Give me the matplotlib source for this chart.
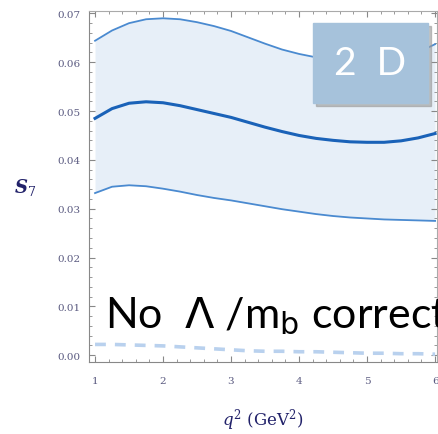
import matplotlib
matplotlib.use("Agg")
from matplotlib import pyplot as plt
from matplotlib.patches import Rectangle
from matplotlib.ticker import MultipleLocator

q2 = [1.0, 1.25, 1.5, 1.75, 2.0, 2.25, 2.5, 2.75, 3.0, 3.25, 3.5,
      3.75, 4.0, 4.25, 4.5, 4.75, 5.0, 5.25, 5.5, 5.75, 6.0]
s7_upper = [0.0644, 0.0665, 0.0680, 0.0688, 0.0690, 0.0688, 0.0682, 0.0674,
            0.0664, 0.0651, 0.0638, 0.0626, 0.0617, 0.0610, 0.0605, 0.0601,
            0.0600, 0.0602, 0.0608, 0.0620, 0.0637]
s7_central = [0.0485, 0.0505, 0.0516, 0.0519, 0.0517, 0.0511, 0.0503, 0.0495,
              0.0487, 0.0477, 0.0467, 0.0458, 0.0450, 0.0444, 0.0440, 0.0437,
              0.0436, 0.0436, 0.0439, 0.0445, 0.0454]
s7_lower = [0.0332, 0.0345, 0.0348, 0.0346, 0.0341, 0.0335, 0.0328, 0.0322,
            0.0317, 0.0311, 0.0305, 0.0299, 0.0294, 0.0289, 0.0285, 0.0282,
            0.0280, 0.0278, 0.0277, 0.0276, 0.0275]
s7_nocorr = [0.0022, 0.0022, 0.0021, 0.0020, 0.0019, 0.0017, 0.0015, 0.0013,
             0.0011, 0.0009, 0.0008, 0.0008, 0.0007, 0.0007, 0.0006, 0.0005,
             0.0004, 0.0004, 0.0003, 0.0003, 0.0002]

fig = plt.figure(figsize=(4.38, 4.35), dpi=100)
ax = fig.add_axes([0.203, 0.1655, 0.795, 0.807])

ax.fill_between(q2, s7_lower, s7_upper, color="#e7eff8", lw=0)
ax.plot(q2, s7_upper, color="#4a8ad0", lw=1.3)
ax.plot(q2, s7_lower, color="#4a8ad0", lw=1.3)
ax.plot(q2, s7_central, color="#1a62b8", lw=2.2)
ax.plot(q2, s7_nocorr, color="#b9d1ee", lw=2.6, ls=(0, (3, 2.5)))

ax.set_xlim(0.91, 6.03)
ax.set_ylim(-0.0014, 0.0705)
ax.xaxis.set_major_locator(MultipleLocator(1))
ax.xaxis.set_minor_locator(MultipleLocator(0.2))
ax.yaxis.set_minor_locator(MultipleLocator(0.002))
ax.set_yticks([0.0, 0.01, 0.02, 0.03, 0.04, 0.05, 0.06, 0.07])
ax.set_yticklabels(["0.00", "0.01", "0.02", "0.03", "0.04", "0.05", "0.06", "0.07"])
ax.tick_params(which="both", direction="in", top=True, right=True,
               color="#888888", labelsize=7.5, labelcolor="#5a5a80",
               labelfontfamily="DejaVu Serif")
ax.tick_params(which="major", length=4, width=0.8, pad=6)
ax.tick_params(axis="x", which="major", pad=10)
ax.tick_params(which="minor", length=2, width=0.6)
for sp in ax.spines.values():
    sp.set_color("#aaaaaa")
    sp.set_linewidth(0.8)
ax.spines["left"].set_color("#888888")
ax.spines["bottom"].set_color("#888888")

fig.text(0.058, 0.568, r"$\mathbfit{S}_7$", fontsize=13, color="#22226a",
         ha="center", va="center", math_fontfamily="dejavuserif")
fig.text(0.60, 0.035, r"$q^2$ (GeV$^2$)", fontsize=12, color="#22226a",
         family="DejaVu Serif", ha="center", va="center",
         math_fontfamily="dejavuserif")

# label box "2 D" with shadow
bx0, by0, bw, bh = 313 / 438, 1 - 104 / 435, 115 / 438, 80 / 435
fig.patches.append(Rectangle((bx0 + 0.006, by0 - 0.008), bw, bh,
                             transform=fig.transFigure, color="#9a9a9a",
                             alpha=0.6, zorder=5))
fig.patches.append(Rectangle((bx0, by0), bw, bh, transform=fig.transFigure,
                             color="#a6c2db", zorder=6))
fig.text(bx0 + bw / 2, by0 + bh / 2, "2  D", fontsize=28, color="white",
         family=["Lato", "DejaVu Sans"], ha="center", va="center", zorder=7)

fig.text(105 / 438, 1 - 316 / 435, r"No  $\Lambda$ /m$_\mathrm{b}$ corrections",
         fontsize=31, color="black", family=["Lato", "DejaVu Sans"],
         ha="left", va="center", math_fontfamily="dejavusans", zorder=7)

fig.savefig("out.png", dpi=100)
